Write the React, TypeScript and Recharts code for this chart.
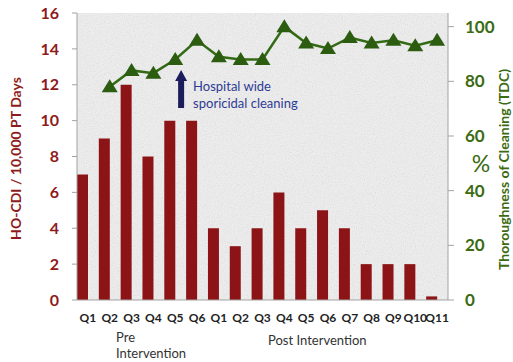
import React from 'react';
import { ComposedChart, Bar, Line, XAxis, YAxis } from 'recharts';

// Quarter labels: six pre-intervention quarters followed by eleven post-intervention quarters
const quarters = ['Q1', 'Q2', 'Q3', 'Q4', 'Q5', 'Q6', 'Q1', 'Q2', 'Q3', 'Q4', 'Q5', 'Q6', 'Q7', 'Q8', 'Q9', 'Q10', 'Q11'];
// Hospital-onset CDI per 10,000 patient days
const hoCdiRates = [7, 9, 12, 8, 10, 10, 4, 3, 4, 6, 4, 5, 4, 2, 2, 2, 0.2];
// Thoroughness of disinfection cleaning (%)
const tdcPercent: (number | null)[] = [null, 78, 84, 83, 88, 95, 89, 88, 88, 100, 94, 92, 96, 94, 95, 93, 95];
const leftTicks = [0, 2, 4, 6, 8, 10, 12, 14, 16];
const rightTicks = [0, 20, 40, 60, 80, 100];

const data = quarters.map((q, i) => ({ quarter: q, rate: hoCdiRates[i], tdc: tdcPercent[i] }));

const W = 513;
const H = 362;
const TOP = 13;
const LEFT_W = 77;
const RIGHT_W = 65;
const BOTTOM_H = 62;
const PLOT_W = W - LEFT_W - RIGHT_W;
const PLOT_H = H - TOP - BOTTOM_H;
const BAR_SHIFT = 5;
const BAND = PLOT_W / quarters.length;
// the sporicidal cleaning rollout falls between pre-intervention Q5 and Q6
const ROLLOUT_INDEX = 5;

const RED = '#8c1416';
const RED_TEXT = '#8e1b1b';
const GREEN = '#336b14';
const GREEN_DARK = '#2b5c10';
const GREEN_TEXT = '#3b6b12';
const AXIS = '#a3a3a3';
const FONT = 'Lato, "Open Sans", sans-serif';

const Triangle = (p: any) => {
  const { cx, cy, index } = p;
  if (cx == null || cy == null || p.value == null) return <g key={`t-${index}`} />;
  return (
    <polygon
      key={`t-${index}`}
      points={`${cx},${cy - 7.5} ${cx + 8},${cy + 5.5} ${cx - 8},${cy + 5.5}`}
      fill={GREEN_DARK}
    />
  );
};

export default function App() {
  const arrowX = LEFT_W - BAR_SHIFT + BAND * ROLLOUT_INDEX;
  return (
    <div style={{ position: 'absolute', left: 0, top: 0, width: W, height: H, background: '#fff', fontFamily: FONT }}>
      <svg width={W} height={H} style={{ position: 'absolute', left: 0, top: 0 }}>
        <defs>
          <filter id="grain" x="0" y="0" width="100%" height="100%">
            <feTurbulence type="fractalNoise" baseFrequency="0.9" numOctaves="2" seed="3" />
            <feColorMatrix type="saturate" values="0" />
          </filter>
        </defs>
        <rect x={LEFT_W} y={TOP} width={PLOT_W} height={PLOT_H} fill="#f1f1f1" />
        <rect x={LEFT_W} y={TOP} width={PLOT_W} height={PLOT_H} filter="url(#grain)" opacity={0.28} />
      </svg>
      <div style={{ position: 'absolute', left: 0, top: 0 }}>
        <ComposedChart width={W} height={H} data={data} margin={{ top: TOP, right: 0, bottom: 0, left: 0 }}>
          <XAxis
            xAxisId="q"
            dataKey="quarter"
            height={BOTTOM_H}
            axisLine={{ stroke: AXIS, strokeWidth: 1 }}
            tickLine={false}
            tickSize={0}
            tickMargin={13}
            interval={0}
            tick={{ fill: '#222', fontSize: 12, fontWeight: 700, fontFamily: FONT }}
          />
          <XAxis xAxisId="zbars" dataKey="quarter" hide height={0} padding={{ left: -BAR_SHIFT, right: BAR_SHIFT }} />
          <YAxis
            yAxisId="left"
            orientation="left"
            width={LEFT_W}
            domain={[0, 16]}
            ticks={leftTicks}
            interval={0}
            axisLine={{ stroke: AXIS }}
            tickLine={{ stroke: AXIS }}
            tickSize={5}
            tickMargin={13}
            tick={{ fill: RED_TEXT, fontSize: 16, fontWeight: 700, fontFamily: FONT }}
          />
          <YAxis
            yAxisId="right"
            orientation="right"
            width={RIGHT_W}
            domain={[0, 105]}
            ticks={rightTicks}
            interval={0}
            axisLine={{ stroke: AXIS }}
            tickLine={{ stroke: AXIS }}
            tickSize={6}
            tickMargin={11}
            tick={{ fill: GREEN_TEXT, fontSize: 17, fontWeight: 700, fontFamily: FONT }}
          />
          <Bar xAxisId="zbars" yAxisId="left" dataKey="rate" fill={RED} barSize={11} isAnimationActive={false} />
          <Line
            xAxisId="q"
            yAxisId="right"
            dataKey="tdc"
            stroke={GREEN}
            strokeWidth={2.5}
            dot={Triangle}
            activeDot={false}
            connectNulls={false}
            isAnimationActive={false}
          />
        </ComposedChart>
      </div>
      <svg width={W} height={H} style={{ position: 'absolute', left: 0, top: 0, pointerEvents: 'none' }}>
        <text
          transform={`translate(15, ${TOP + PLOT_H / 2 + 2}) rotate(-90)`}
          textAnchor="middle"
          dominantBaseline="central"
          fill={RED_TEXT}
          fontSize={14}
          fontWeight={700}
          fontFamily={FONT}
        >
          HO-CDI / 10,000 PT Days
        </text>
        <text
          transform={`translate(503, ${TOP + PLOT_H / 2 + 13}) rotate(-90)`}
          textAnchor="middle"
          dominantBaseline="central"
          fill={GREEN_TEXT}
          fontSize={14}
          fontWeight={700}
          fontFamily={FONT}
        >
          Thoroughness of Cleaning (TDC)
        </text>
        <text x={481} y={163} textAnchor="middle" dominantBaseline="central" fill={GREEN_TEXT} fontSize={23} fontFamily={FONT}>
          %
        </text>
        <polygon
          points={`${arrowX},70 ${arrowX + 6},81 ${arrowX + 3},81 ${arrowX + 3},108 ${arrowX - 3},108 ${arrowX - 3},81 ${arrowX - 6},81`}
          fill="#1c1c5c"
        />
        <text x={arrowX + 12} y={91} fill="#2e3b94" fontSize={13} fontFamily={FONT}>
          Hospital wide
        </text>
        <text x={arrowX + 12} y={108} fill="#2e3b94" fontSize={13} fontFamily={FONT}>
          sporicidal cleaning
        </text>
        <text x={116} y={342} fill="#333" fontSize={13} fontFamily={FONT}>
          Pre
        </text>
        <text x={116} y={358} fill="#333" fontSize={13} fontFamily={FONT}>
          Intervention
        </text>
        <text x={268} y={345} fill="#333" fontSize={13} fontFamily={FONT}>
          Post Intervention
        </text>
      </svg>
    </div>
  );
}
